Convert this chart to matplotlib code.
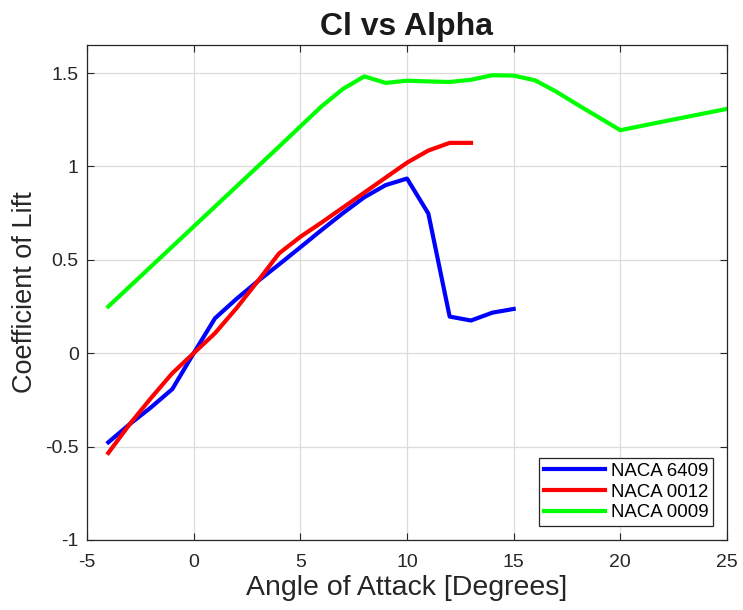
import matplotlib
matplotlib.use("Agg")
import matplotlib.pyplot as plt

plt.rcParams['font.family'] = ['Liberation Sans', 'DejaVu Sans']
plt.rcParams['axes.unicode_minus'] = False

# NACA 6409
alpha_6409 = [-4, -3, -2, -1, 0, 1, 2, 3, 4, 5, 6, 7, 8, 9, 10, 11, 12, 13, 14, 15]
cl_6409 = [-0.477, -0.38, -0.29, -0.192, 0.0, 0.187, 0.29, 0.385, 0.475, 0.567, 0.66, 0.75,
           0.835, 0.90, 0.935, 0.748, 0.196, 0.175, 0.217, 0.237]

# NACA 0012
alpha_0012 = [-4, -3, -2, -1, 0, 1, 2, 3, 4, 5, 6, 7, 8, 9, 10, 11, 12, 13]
cl_0012 = [-0.534, -0.38, -0.24, -0.107, 0.0, 0.107, 0.24, 0.385, 0.534, 0.623, 0.70, 0.78,
           0.86, 0.94, 1.02, 1.085, 1.126, 1.126]

# NACA 0009
alpha_0009 = [-4, -2, 0, 2, 4, 6, 7, 8, 9, 10, 11, 12, 13, 14, 15, 16, 17, 18, 20, 22, 25]
cl_0009 = [0.25, 0.464, 0.678, 0.892, 1.106, 1.322, 1.415, 1.482, 1.447, 1.459, 1.455, 1.452,
           1.464, 1.488, 1.486, 1.461, 1.40, 1.33, 1.194, 1.24, 1.308]

labels = ["NACA 6409", "NACA 0012", "NACA 0009"]
colors = ["#0000ff", "#ff0000", "#00ff00"]

fig = plt.figure(figsize=(7.43, 6.10), dpi=100)
ax = fig.add_axes([87 / 743, 1 - 540 / 610, 640 / 743, 495 / 610])

ax.plot(alpha_6409, cl_6409, color=colors[0], lw=3, label=labels[0])
ax.plot(alpha_0012, cl_0012, color=colors[1], lw=3, label=labels[1])
ax.plot(alpha_0009, cl_0009, color=colors[2], lw=3, label=labels[2])

ax.set_xlim(-5, 25)
ax.set_ylim(-1, 1.65)
ax.set_xticks(range(-5, 26, 5))
ax.set_yticks([-1, -0.5, 0, 0.5, 1, 1.5])
ax.set_yticklabels(["-1", "-0.5", "0", "0.5", "1", "1.5"])
ax.tick_params(direction="in", top=True, right=True, labelsize=14, length=5, width=0.8,
               colors="#262626", labelcolor="#262626")
ax.tick_params(axis="x", pad=10)
ax.tick_params(axis="y", pad=6)
ax.grid(True, color="#dcdcdc", lw=0.9)
ax.set_axisbelow(True)
for s in ax.spines.values():
    s.set_color("#262626")
    s.set_linewidth(0.9)

ax.set_title("Cl vs Alpha", fontsize=23, fontweight="bold", color="#1a1a1a", pad=7)
ax.set_xlabel("Angle of Attack [Degrees]", fontsize=20.5, color="#262626", labelpad=3)
ax.set_ylabel("Coefficient of Lift", fontsize=19.5, color="#262626", labelpad=5)

leg = ax.legend(loc="lower right", fontsize=13.4, frameon=True, fancybox=False,
                edgecolor="#262626", framealpha=1, borderpad=0.25, labelspacing=0.2,
                handlelength=3.3, handletextpad=0.3, borderaxespad=0.75)
leg.get_frame().set_linewidth(0.9)

fig.savefig("out.png", dpi=100)
